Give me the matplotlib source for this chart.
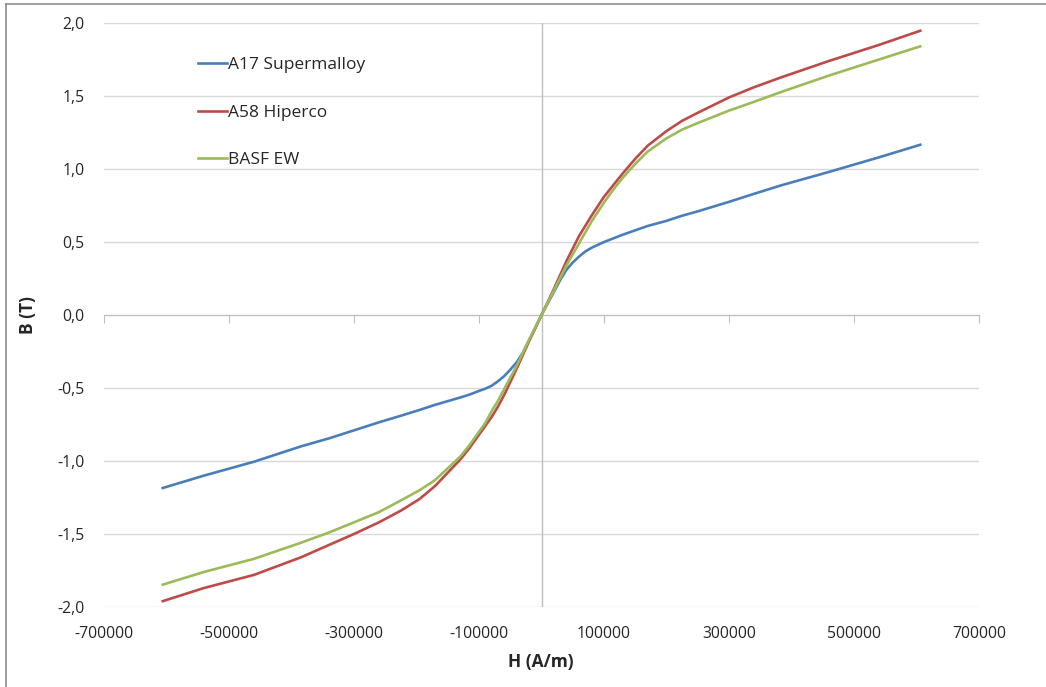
import numpy as np
import matplotlib
matplotlib.use('Agg')
import matplotlib.pyplot as plt
from matplotlib.lines import Line2D

# Readings (H in A/m, B in T)
H = [-606000, -540000, -460000, -385000, -340000, -300000, -260000, -225000,
     -195000, -170000, -150000, -130000, -115000, -100000, -90000, -80000,
     -70000, -60000, -50000, -40000, -30000, -20000, -10000, 0,
     10000, 20000, 30000, 40000, 50000, 60000, 70000, 80000,
     90000, 100000, 115000, 130000, 150000, 170000, 200000, 225000,
     250000, 300000, 340000, 385000, 460000, 540000, 606000]

b_supermalloy = [-1.185, -1.10, -1.005, -0.90, -0.845, -0.79, -0.735, -0.69,
                 -0.65, -0.615, -0.59, -0.565, -0.545, -0.52, -0.505, -0.485,
                 -0.455, -0.42, -0.375, -0.325, -0.26, -0.175, -0.09, 0.0,
                 0.08, 0.16, 0.24, 0.31, 0.36, 0.40, 0.435, 0.46,
                 0.48, 0.50, 0.525, 0.55, 0.58, 0.61, 0.645, 0.68,
                 0.71, 0.775, 0.83, 0.89, 0.98, 1.08, 1.166]
b_hiperco = [-1.96, -1.87, -1.78, -1.66, -1.575, -1.50, -1.42, -1.34,
             -1.26, -1.17, -1.08, -0.99, -0.91, -0.82, -0.76, -0.70,
             -0.63, -0.55, -0.46, -0.37, -0.275, -0.18, -0.09, 0.0,
             0.09, 0.18, 0.275, 0.37, 0.455, 0.54, 0.61, 0.68,
             0.745, 0.81, 0.89, 0.97, 1.07, 1.16, 1.26, 1.33,
             1.385, 1.49, 1.56, 1.63, 1.74, 1.85, 1.947]
b_basf = [-1.847, -1.76, -1.67, -1.56, -1.49, -1.42, -1.35, -1.27,
          -1.20, -1.13, -1.05, -0.97, -0.89, -0.80, -0.74, -0.66,
          -0.59, -0.51, -0.43, -0.35, -0.26, -0.17, -0.085, 0.0,
          0.085, 0.17, 0.255, 0.34, 0.415, 0.49, 0.565, 0.64,
          0.705, 0.77, 0.86, 0.94, 1.035, 1.12, 1.21, 1.27,
          1.315, 1.40, 1.46, 1.53, 1.64, 1.75, 1.84]

labels = ["A17 Supermalloy", "A58 Hiperco", "BASF EW"]
colors = ["#4a7ebb", "#be4b48", "#9bbb59"]

x_ticks = list(range(-700000, 700001, 200000))
y_ticks = [-2.0, -1.5, -1.0, -0.5, 0.0, 0.5, 1.0, 1.5, 2.0]

plt.rcParams['font.family'] = ['Open Sans', 'DejaVu Sans']
plt.rcParams['font.size'] = 11.3
txt = '#262626'
axcol = '#bfbfbf'

fig = plt.figure(figsize=(10.46, 6.87), dpi=100)
ax = fig.add_axes([104/1046, 1-607/687, 875/1046, 584/687])

for b, lab, c in zip([b_supermalloy, b_hiperco, b_basf], labels, colors):
    ax.plot(H, b, color=c, lw=1.9, label=lab, zorder=3)

ax.set_xlim(-700000, 700000)
ax.set_ylim(-2, 2)

# axes through the origin, Excel style
for s in ['top', 'right', 'left']:
    ax.spines[s].set_visible(False)
ax.spines['bottom'].set_position(('data', 0))
ax.spines['bottom'].set_color(axcol)
ax.axvline(0, color=axcol, lw=1, zorder=1)
ax.set_xticks(x_ticks)
ax.tick_params(axis='x', direction='out', length=6, color=axcol, labelbottom=False)

ax.set_yticks(y_ticks)
ax.set_yticklabels([("%.1f" % v).replace('.', ',') for v in y_ticks], color=txt)
ax.tick_params(axis='y', length=0, pad=14)
ax.yaxis.grid(True, color='#d9d9d9', lw=1)
ax.set_axisbelow(True)

sec = ax.secondary_xaxis('bottom')
sec.set_xticks(x_ticks)
sec.set_xticklabels([str(v) for v in x_ticks], color=txt)
sec.tick_params(length=0, pad=14)
sec.spines['bottom'].set_visible(False)

ax.set_ylabel("B (T)", fontweight='bold', color=txt, fontsize=12.5)
ax.yaxis.set_label_coords(-0.0766, 0.5)
fig.text(541/1046, 1-662/687, "H (A/m)", fontweight='bold', color=txt,
         fontsize=12.5, ha='center', va='center')

ax.legend(loc='upper left', bbox_to_anchor=(0.089, 0.969), frameon=False,
          fontsize=12.5, handlelength=1.72, handletextpad=0.05,
          labelspacing=1.82, labelcolor=txt)

# chart border
fig.add_artist(Line2D([6/1046, 6/1046], [0, 1-4/687], color='#8c8c8c', lw=1.2))
fig.add_artist(Line2D([6/1046, 1], [1-4/687, 1-4/687], color='#8c8c8c', lw=1.2))

plt.savefig('out.png')
